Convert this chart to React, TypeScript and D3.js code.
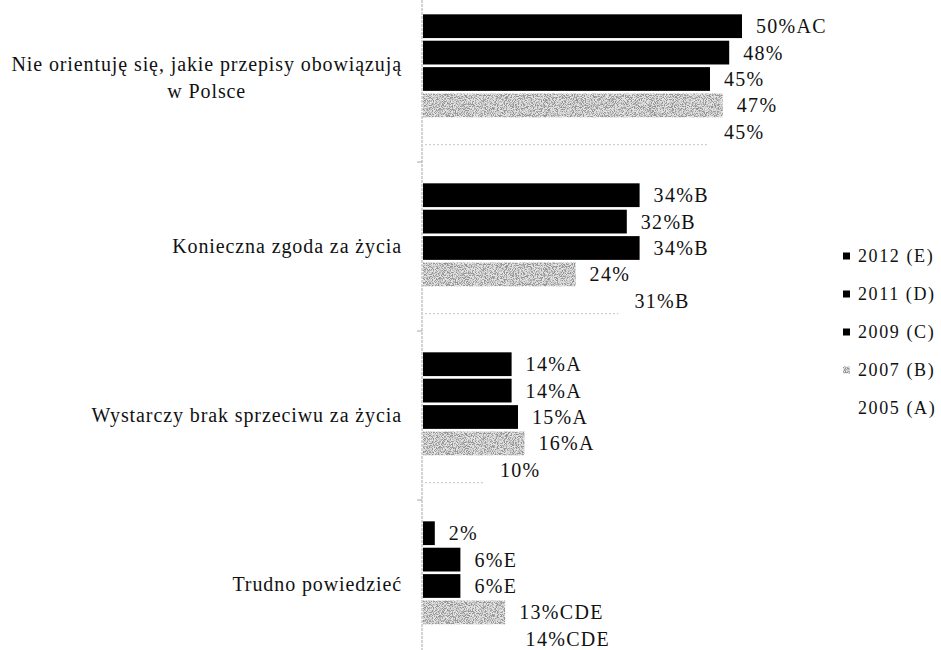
import React from "react";
import * as d3 from "d3";

// Survey answers, one group of bars per answer
const categories = [
  ["Nie orientuję się, jakie przepisy obowiązują", "w Polsce"],
  ["Konieczna zgoda za życia"],
  ["Wystarczy brak sprzeciwu za życia"],
  ["Trudno powiedzieć"],
];

// Survey waves (top to bottom inside each group)
const seriesKeys = ["2012 (E)", "2011 (D)", "2009 (C)", "2007 (B)", "2005 (A)"];

// Percentages per wave, in category order
const values2012 = [50, 34, 14, 2];
const values2011 = [48, 32, 14, 6];
const values2009 = [45, 34, 15, 6];
const values2007 = [47, 24, 16, 13];
const values2005 = [45, 31, 10, 14];

// Significance letters printed after each percentage
const tags2012 = ["AC", "B", "A", ""];
const tags2011 = ["", "B", "A", "E"];
const tags2009 = ["", "B", "A", "E"];
const tags2007 = ["", "", "A", "CDE"];
const tags2005 = ["", "B", "", "CDE"];

const seriesValues = [values2012, values2011, values2009, values2007, values2005];
const seriesTags = [tags2012, tags2011, tags2009, tags2007, tags2005];
const seriesFill = ["#000", "#000", "#000", "#e4e4e4", "#fff"];

const W = 941;
const H = 650;
const FONT = "'Liberation Serif', 'Times New Roman', serif";

function measure(text: string, size: number, spacing: number) {
  const ctx = document.createElement("canvas").getContext("2d");
  if (!ctx) return text.length * size * 0.45;
  ctx.font = `${size}px ${FONT}`;
  return ctx.measureText(text).width + spacing * text.length;
}

export default function App() {
  const x = d3.scaleLinear().domain([0, 50]).range([422, 742]);
  const y0 = d3
    .scaleBand<number>()
    .domain(d3.range(categories.length))
    .range([-7, -7 + 169 * categories.length]);
  const y1 = d3
    .scaleBand<string>()
    .domain(seriesKeys)
    .range([20, 152])
    .paddingInner(0.1)
    .paddingOuter(0.05);

  const labelRight = 402;
  const catSize = 20;
  const catSpacing = 0.9;

  return (
    <svg
      width={W}
      height={H}
      style={{ position: "absolute", left: 0, top: 0, background: "#fff", fontFamily: FONT }}
    >
      <defs>
        {/* speckled grey fill for the 2007 wave */}
        <filter id="grain" x="0" y="0" width="100%" height="100%">
          <feTurbulence type="fractalNoise" baseFrequency="1.1" numOctaves="2" seed="7" result="noise" />
          <feColorMatrix
            in="noise"
            type="matrix"
            values="0 0 0 0 0.3  0 0 0 0 0.3  0 0 0 0 0.3  5 0 0 0 -2.1"
            result="specks"
          />
          <feComposite in="specks" in2="SourceGraphic" operator="atop" />
        </filter>
      </defs>

      {/* value axis baseline with ticks between groups */}
      <line x1={x(0)} x2={x(0)} y1={0} y2={H} stroke="#a8a8a8" strokeWidth={1} strokeDasharray="3 1" />
      {d3.range(1, categories.length).map((i) => (
        <line key={i} x1={x(0) - 5} x2={x(0)} y1={y0(i)!} y2={y0(i)!} stroke="#a8a8a8" strokeWidth={1} />
      ))}

      {/* category labels */}
      {categories.map((lines, i) => {
        const cy = y0(i)! + y0.bandwidth() / 2;
        const lh = 27;
        const top = cy - ((lines.length - 1) * lh) / 2 + 6.5;
        const firstW = measure(lines[0], catSize, catSpacing);
        const mid = labelRight - firstW / 2;
        return (
          <text key={i} fontSize={catSize} letterSpacing={catSpacing} fill="#111">
            {lines.map((ln, j) => (
              <tspan
                key={j}
                x={lines.length > 1 ? mid : labelRight}
                y={top + j * lh}
                textAnchor={lines.length > 1 ? "middle" : "end"}
              >
                {ln}
              </tspan>
            ))}
          </text>
        );
      })}

      {/* bars and value labels */}
      {categories.map((_, i) => (
        <g key={i} transform={`translate(0,${y0(i)})`}>
          {seriesKeys.map((key, s) => {
            const v = seriesValues[s][i];
            const by = y1(key)!;
            const bh = y1.bandwidth();
            const x0 = x(0) + 1;
            const x1 = x(v);
            return (
              <g key={key}>
                <rect
                  x={x0}
                  y={by}
                  width={x1 - x0}
                  height={bh}
                  fill={seriesFill[s]}
                  filter={s === 3 ? "url(#grain)" : undefined}
                />
                {s === 4 && (
                  <line
                    x1={x0 + 2}
                    x2={x1 - 2}
                    y1={by + bh + 1}
                    y2={by + bh + 1}
                    stroke="#c4c4c4"
                    strokeWidth={1}
                    strokeDasharray="2 2"
                  />
                )}
                <text
                  x={x1 + 14}
                  y={by + bh / 2 + 7}
                  fontSize={20}
                  letterSpacing={1.3}
                  fill="#111"
                >
                  {`${v}%${seriesTags[s][i]}`}
                </text>
              </g>
            );
          })}
        </g>
      ))}

      {/* legend */}
      {seriesKeys.map((key, s) => {
        const cy = 256 + s * 38;
        return (
          <g key={key}>
            <rect
              x={843}
              y={cy - 3.5}
              width={7}
              height={7}
              fill={seriesFill[s]}
              filter={s === 3 ? "url(#grain)" : undefined}
            />
            <text x={858} y={cy + 6} fontSize={18} letterSpacing={1.6} fill="#111">
              {key}
            </text>
          </g>
        );
      })}
    </svg>
  );
}
